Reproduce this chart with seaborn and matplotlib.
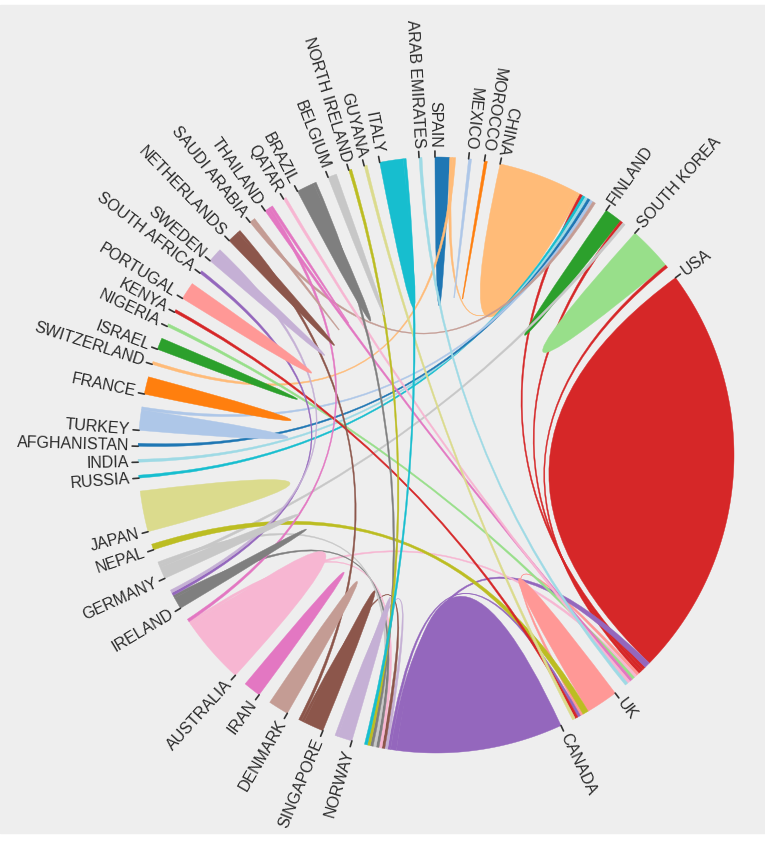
import numpy as np
import matplotlib
matplotlib.use("Agg")
import matplotlib.pyplot as plt
from matplotlib.path import Path
from matplotlib.patches import PathPatch, Rectangle
import seaborn as sns

# Countries in clockwise order, starting at the top
countries = ["SPAIN", "MEXICO", "MOROCCO", "CHINA", "FINLAND", "SOUTH KOREA", "USA", "UK",
             "CANADA", "NORWAY", "SINGAPORE", "DENMARK", "IRAN", "AUSTRALIA", "IRELAND",
             "GERMANY", "NEPAL", "JAPAN", "RUSSIA", "INDIA", "AFGHANISTAN", "TURKEY", "FRANCE",
             "SWITZERLAND", "ISRAEL", "NIGERIA", "KENYA", "PORTUGAL", "SOUTH AFRICA", "SWEDEN",
             "NETHERLANDS", "SAUDI ARABIA", "THAILAND", "QATAR", "BRAZIL", "BELGIUM",
             "NORTH IRELAND", "GUYANA", "ITALY", "ARAB EMIRATES"]

# within-country counts (diagonal)
self_counts = [5, 1, 1, 28, 6, 15, 142, 11,
               57, 5, 7, 7, 6, 22, 4,
               4, 0, 14, 0, 0, 0, 7, 6,
               0, 4, 0, 0, 6, 0, 4,
               4, 1, 1, 0, 6, 3,
               0, 0, 8, 0]

# collaborations between countries
link_a = ["SPAIN", "SPAIN", "CHINA", "CHINA", "CHINA", "CHINA", "CHINA", "CHINA",
          "FINLAND", "FINLAND", "SOUTH KOREA",
          "USA", "USA", "USA", "USA", "USA", "USA", "USA",
          "UK", "UK", "UK", "UK",
          "CANADA", "CANADA", "CANADA", "CANADA", "CANADA", "CANADA", "CANADA", "CANADA",
          "SINGAPORE", "AUSTRALIA", "IRELAND", "IRELAND"]
link_b = ["SWITZERLAND", "CHINA", "USA", "RUSSIA", "INDIA", "AFGHANISTAN", "TURKEY", "SAUDI ARABIA",
          "USA", "GERMANY", "USA",
          "UK", "CANADA", "ARAB EMIRATES", "NIGERIA", "QATAR", "AUSTRALIA", "THAILAND",
          "NEPAL", "KENYA", "GUYANA", "CANADA",
          "ITALY", "NORTH IRELAND", "SINGAPORE", "BRAZIL", "NORWAY", "IRELAND", "AUSTRALIA", "GERMANY",
          "NETHERLANDS", "THAILAND", "SOUTH AFRICA", "SWEDEN"]
link_v = [1, 1, 1, 1, 1, 1, 1, 1,
          1, 1, 1,
          1, 2, 1, 1, 1, 1, 1,
          2, 1, 1, 1,
          1, 1, 1, 1, 1, 1, 1, 1,
          1, 1, 1, 1]

# geometry (pixels)
W, H = 765, 842
CX, CY, R = 436, 455, 298
PAD = 2.5
START = -0.2

n = len(countries)
idx = {c: i for i, c in enumerate(countries)}
M = np.zeros((n, n))
for i, v in enumerate(self_counts):
    M[i, i] = v
for a, b, v in zip(link_a, link_b, link_v):
    M[idx[a], idx[b]] += v
    M[idx[b], idx[a]] += v

k = (360 - n * PAD) / M.sum()

# layout like d3.chord with descending subgroups
groups = []
sub = {}
ang = START
for i in range(n):
    x0 = ang
    order = sorted(range(n), key=lambda j: -M[i, j])
    for j in order:
        if M[i, j] > 0:
            sub[(i, j)] = (ang, ang + M[i, j] * k)
            ang += M[i, j] * k
    groups.append((x0, ang))
    ang += PAD

pal = sns.color_palette("tab20", 20)
colors = [pal[i % 20] for i in range(n)]


def pt(theta, r=R):
    t = np.radians(theta)
    return (CX + r * np.sin(t), CY - r * np.cos(t))


def arc(a0, a1, r=R):
    m = max(2, int(abs(a1 - a0) * 3) + 2)
    return [pt(t, r) for t in np.linspace(a0, a1, m)]


def ribbon(s, t):
    verts = arc(*s)
    codes = [Path.MOVETO] + [Path.LINETO] * (len(verts) - 1)
    if s != t:
        verts += [(CX, CY), pt(t[0])]
        codes += [Path.CURVE3, Path.CURVE3]
        a = arc(*t)[1:]
        verts += a
        codes += [Path.LINETO] * len(a)
    verts += [(CX, CY), pt(s[0]), pt(s[0])]
    codes += [Path.CURVE3, Path.CURVE3, Path.CLOSEPOLY]
    return Path(verts, codes)


sns.set_theme(style="white")
plt.rcParams['font.family'] = ['Liberation Sans', 'DejaVu Sans']

fig = plt.figure(figsize=(W / 100, H / 100), dpi=100, facecolor="white")
ax = fig.add_axes([0, 0, 1, 1])
ax.set_xlim(0, W)
ax.set_ylim(H, 0)
ax.axis("off")
ax.add_patch(Rectangle((0, 5), W, 828, color="#eeeeee", zorder=0))

# chords
for i in range(n):
    for j in range(i, n):
        if M[i, j] <= 0:
            continue
        s, t = sub[(j, i)], sub[(i, j)]
        col = colors[j]
        ax.add_patch(PathPatch(ribbon(s, t), facecolor=col, edgecolor=col,
                               lw=0.3, zorder=2))

# ticks and labels at the start of each group
for i, name in enumerate(countries):
    a0 = groups[i][0]
    p1, p2 = pt(a0, R), pt(a0, R + 6)
    ax.plot([p1[0], p2[0]], [p1[1], p2[1]], color="#333333", lw=1.2, zorder=3)
    tx, ty = pt(a0, R + 9)
    flip = (a0 - 15) % 360 > 180
    rot = 90 - a0 + (180 if flip else 0)
    ax.text(tx, ty, name, rotation=rot, rotation_mode="anchor",
            ha="right" if flip else "left", va="center",
            fontsize=11.5, color="#2b2b2b", zorder=4)

fig.savefig("out.png", dpi=100, facecolor="white")
